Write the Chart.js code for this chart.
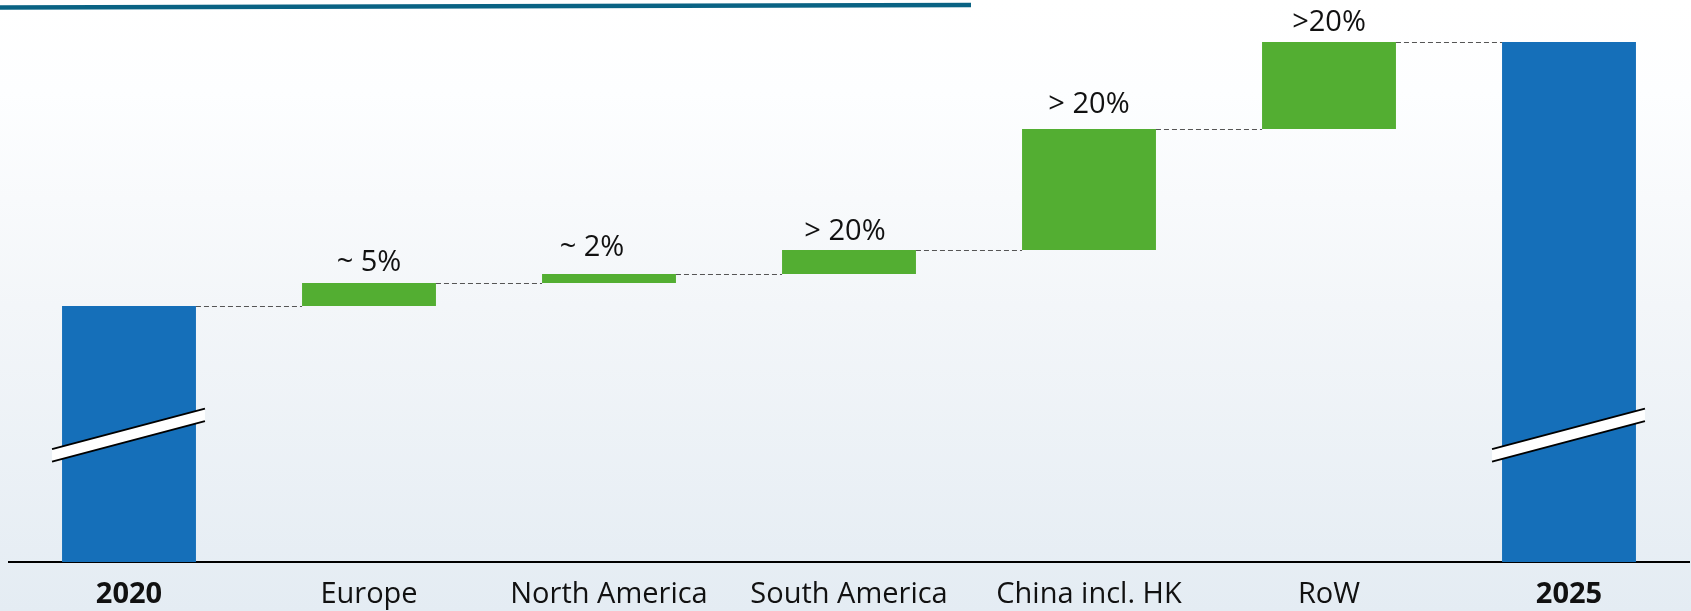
<!DOCTYPE html>
<html>
<head>
<meta charset="utf-8">
<script src="https://cdn.jsdelivr.net/npm/chart.js@4/dist/chart.umd.min.js"></script>
<style>
  html, body { margin: 0; padding: 0; }
  body {
    width: 1691px; height: 611px; overflow: hidden;
    background: linear-gradient(to bottom, #ffffff 0%, #fdfeff 15%, #f3f6f9 50%, #e4ecf3 100%);
  }
  #wrap { position: relative; width: 1691px; height: 611px; }
</style>
</head>
<body>
<div id="wrap"><canvas id="waterfall" width="1691" height="611"></canvas></div>
<script>
// Waterfall: 2020 level, regional growth steps, 2025 level (axis is broken, units arbitrary)
const categories = ['2020', 'Europe', 'North America', 'South America', 'China incl. HK', 'RoW', '2025'];
const startTotal = 256;
const endTotal = 520;
const increments = [23, 9, 24, 121, 87];
const growthLabels = ['~ 5%', '~ 2%', '> 20%', '> 20%', '>20%'];

const BLUE = '#156fb9';
const GREEN = '#53ae32';
const FONT = '"Open Sans", "DejaVu Sans", sans-serif';

// build floating ranges
const ranges = [[0, startTotal]];
let running = startTotal;
increments.forEach(v => {
  ranges.push([running, running + v]);
  running += v;
});
ranges.push([0, endTotal]);
const colors = categories.map((c, i) => (i === 0 || i === categories.length - 1) ? BLUE : GREEN);

const decor = {
  id: 'decor',
  beforeDraw(chart) {
    const ctx = chart.ctx;
    // teal rule at the top
    ctx.save();
    ctx.strokeStyle = '#0a6384';
    ctx.lineWidth = 4.5;
    ctx.beginPath();
    ctx.moveTo(0, 7.5);
    ctx.lineTo(971, 5);
    ctx.stroke();
    ctx.restore();
  },
  afterDatasetsDraw(chart) {
    const ctx = chart.ctx;
    const meta = chart.getDatasetMeta(0);
    const y = chart.scales.y;
    const bars = meta.data;

    // dashed connectors
    ctx.save();
    ctx.strokeStyle = '#555';
    ctx.lineWidth = 1.2;
    ctx.setLineDash([5, 3]);
    for (let i = 0; i < bars.length - 1; i++) {
      const level = i === bars.length - 2 ? ranges[i][1] : ranges[i + 1][0];
      const yy = Math.round(y.getPixelForValue(level)) + 0.5;
      ctx.beginPath();
      ctx.moveTo(bars[i].x + bars[i].width / 2, yy);
      ctx.lineTo(bars[i + 1].x - bars[i + 1].width / 2, yy);
      ctx.stroke();
    }
    ctx.restore();

    // growth labels
    const nudgeX = [0, -17, -4, 0, 0];
    const lift = [12, 18, 10, 16, 11];
    ctx.save();
    ctx.fillStyle = '#111';
    ctx.font = '29px ' + FONT;
    ctx.textAlign = 'center';
    ctx.textBaseline = 'alphabetic';
    growthLabels.forEach((t, k) => {
      const b = bars[k + 1];
      ctx.fillText(t, b.x + nudgeX[k], b.y - lift[k]);
    });
    ctx.restore();

    // axis break marks on the total bars
    const slope = -0.265;
    const half = 6.25;
    [0, bars.length - 1].forEach(i => {
      const b = bars[i];
      const cx = b.x;
      const cy = y.getPixelForValue(127);
      const x0 = b.x - b.width / 2 - 10;
      const x1 = b.x + b.width / 2 + 9;
      const yl = cy + (x0 - cx) * slope;
      const yr = cy + (x1 - cx) * slope;
      ctx.save();
      ctx.fillStyle = '#ffffff';
      ctx.beginPath();
      ctx.moveTo(x0, yl - half);
      ctx.lineTo(x1, yr - half);
      ctx.lineTo(x1, yr + half);
      ctx.lineTo(x0, yl + half);
      ctx.closePath();
      ctx.fill();
      ctx.strokeStyle = '#000';
      ctx.lineWidth = 2;
      ctx.beginPath();
      ctx.moveTo(x0, yl - half);
      ctx.lineTo(x1, yr - half);
      ctx.moveTo(x0, yl + half);
      ctx.lineTo(x1, yr + half);
      ctx.stroke();
      ctx.restore();
    });
  }
};

new Chart(document.getElementById('waterfall').getContext('2d'), {
  type: 'bar',
  data: {
    labels: categories,
    datasets: [{
      data: ranges,
      backgroundColor: colors,
      borderWidth: 0,
      borderSkipped: false,
      categoryPercentage: 1,
      barPercentage: 0.558
    }]
  },
  options: {
    responsive: false,
    animation: false,
    devicePixelRatio: 1,
    layout: { padding: { left: 9, right: 2, top: 0, bottom: 0 } },
    plugins: {
      legend: { display: false },
      tooltip: { enabled: false }
    },
    scales: {
      x: {
        grid: { display: false, drawTicks: false },
        border: { display: true, color: '#000', width: 2 },
        afterFit(scale) { scale.height = 49; },
        ticks: {
          padding: 15,
          color: '#111',
          maxRotation: 0,
          autoSkip: false,
          font: ctx => ({
            family: FONT,
            size: 29,
            weight: (ctx.index === 0 || ctx.index === categories.length - 1) ? 'bold' : 'normal'
          })
        }
      },
      y: {
        display: false,
        min: 0,
        max: 562
      }
    }
  },
  plugins: [decor]
});
</script>
</body>
</html>
